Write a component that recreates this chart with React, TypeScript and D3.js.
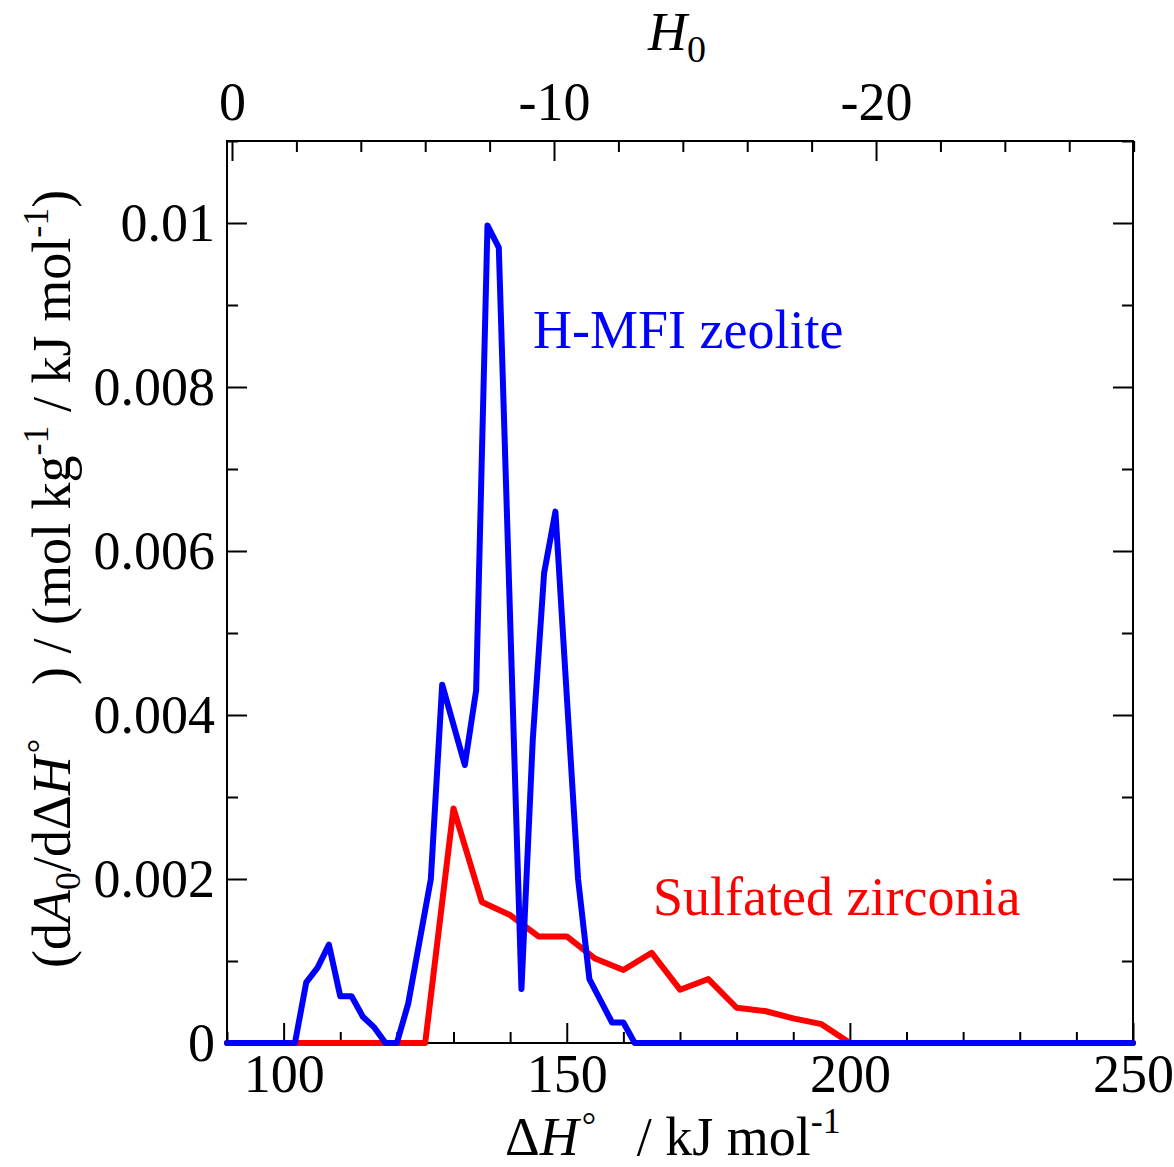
import React, { useEffect, useRef } from 'react';
import * as d3 from 'd3';

// H-MFI zeolite (blue)
const mfiDH = [90, 102, 104, 106, 108, 110, 112, 114, 116, 118, 120, 122, 126, 128, 132, 134, 136, 138, 142, 144, 146, 148, 152, 154, 158, 160, 162, 250];
const mfiVal = [0, 0, 0.00074, 0.00092, 0.0012, 0.00057, 0.00057, 0.00032, 0.00019, 0, 0, 0.00048, 0.002, 0.00437, 0.00339, 0.0043, 0.00997, 0.0097, 0.00066, 0.0037, 0.00573, 0.00648, 0.002, 0.00078, 0.00025, 0.00025, 0, 0];

// Sulfated zirconia (red)
const szDH = [90, 125, 130, 135, 140, 145, 150, 155, 160, 165, 170, 175, 180, 185, 190, 195, 200, 250];
const szVal = [0, 0, 0.00286, 0.00172, 0.00156, 0.0013, 0.0013, 0.00103, 0.00089, 0.0011, 0.00065, 0.00078, 0.00043, 0.00039, 0.0003, 0.00023, 0, 0];

const xMajor = [100, 150, 200, 250];
const yMajor = [0, 0.002, 0.004, 0.006, 0.008, 0.01];
const yLabels = ['0', '0.002', '0.004', '0.006', '0.008', '0.01'];
const h0Major = [0, -10, -20];

const W = 1174;
const H = 1167;
const left = 227, right = 1133, top = 141, bottom = 1043;
const FONT = '"Liberation Serif", "Times New Roman", serif';
const FS = 54;

export default function App() {
  const ref = useRef<SVGGElement>(null);

  const x = d3.scaleLinear().domain([90, 250]).range([left, right]);
  const y = d3.scaleLinear().domain([0, 0.011]).range([bottom, top]);
  // H0 acidity scale on top, linear in ΔH°
  const h0 = d3.scaleLinear().domain([0.155, -27.98]).range([left, right]);

  useEffect(() => {
    const g = d3.select(ref.current);
    g.selectAll('*').remove();

    const major = 20, minor = 11;
    const xMinor = d3.range(90, 251, 10).filter((v) => !xMajor.includes(v));
    const yMinor = d3.range(0, 12).map((i) => i * 0.001).filter((_, i) => i % 2 === 1);
    const hMinor = d3.range(0, -28.1, -2).filter((v) => v % 10 !== 0);

    const axis = (gen: any, tr: string) => {
      const a = g.append('g').attr('transform', tr).call(gen);
      a.select('.domain').remove();
      a.selectAll('line').attr('stroke', '#000').attr('stroke-width', 2);
      a.selectAll('text').attr('font-size', FS).attr('font-family', FONT).attr('fill', '#000');
      return a;
    };

    // bottom
    axis(d3.axisBottom(x).tickValues(xMajor).tickSize(-major).tickPadding(11).tickFormat((d) => String(d)), `translate(0,${bottom})`);
    axis(d3.axisBottom(x).tickValues(xMinor).tickSize(-minor).tickFormat(() => ''), `translate(0,${bottom})`);

    // top H0
    axis(d3.axisTop(h0).tickValues(h0Major).tickSize(-major).tickPadding(21).tickFormat((d) => String(d)), `translate(0,${top})`);
    axis(d3.axisTop(h0).tickValues(hMinor).tickSize(-minor).tickFormat(() => ''), `translate(0,${top})`);

    // left
    axis(d3.axisLeft(y).tickValues(yMajor).tickSize(-major).tickPadding(12).tickFormat((_, i) => yLabels[i]), `translate(${left},0)`);
    axis(d3.axisLeft(y).tickValues(yMinor).tickSize(-minor).tickFormat(() => ''), `translate(${left},0)`);

    // right
    axis(d3.axisRight(y).tickValues(yMajor).tickSize(-major).tickFormat(() => ''), `translate(${right},0)`);
    axis(d3.axisRight(y).tickValues(yMinor).tickSize(-minor).tickFormat(() => ''), `translate(${right},0)`);

    g.append('rect')
      .attr('x', left).attr('y', top)
      .attr('width', right - left).attr('height', bottom - top)
      .attr('fill', 'none').attr('stroke', '#000').attr('stroke-width', 2);

    const line = d3.line<[number, number]>().x((d) => x(d[0])).y((d) => y(d[1]));
    const series = [
      { xs: szDH, ys: szVal, color: '#ff0000' },
      { xs: mfiDH, ys: mfiVal, color: '#0000ff' },
    ];
    series.forEach((s) => {
      g.append('path')
        .attr('d', line(s.xs.map((v, i) => [v, s.ys[i]] as [number, number])))
        .attr('fill', 'none')
        .attr('stroke', s.color)
        .attr('stroke-width', 6)
        .attr('stroke-linejoin', 'round')
        .attr('stroke-linecap', 'round');
    });
  }, []);

  return (
    <svg width={W} height={H} style={{ position: 'absolute', left: 0, top: 0, background: '#fff' }} fontFamily={FONT}>
      <g ref={ref} />
      <text x={533} y={348} fontSize={FS} fill="#0000ff">H-MFI zeolite</text>
      <text x={653} y={915} fontSize={FS} fill="#ff0000">Sulfated zirconia</text>
      <text x={648} y={50} fontSize={FS}>
        <tspan fontStyle="italic">H</tspan>
        <tspan fontSize={38} dy={12}>0</tspan>
      </text>
      <text x={505} y={1155} fontSize={FS}>
        Δ<tspan fontStyle="italic">H</tspan>
        <tspan fontSize={36} dx={3} dy={-18}>°</tspan>
        <tspan dy={18}>{'\u00a0\u00a0\u00a0/ kJ mol'}</tspan>
        <tspan fontSize={36} dy={-22}>-1</tspan>
      </text>
      <text transform="translate(70,968) rotate(-90)" fontSize={FS}>
        (d<tspan fontStyle="italic">A</tspan>
        <tspan fontSize={36} dy={10}>0</tspan>
        <tspan dy={-10}>/dΔ</tspan>
        <tspan fontStyle="italic">H</tspan>
        <tspan fontSize={36} dx={3} dy={-18}>°</tspan>
        <tspan dy={18}>{'\u00a0\u00a0\u00a0\u00a0) / (mol kg'}</tspan>
        <tspan fontSize={36} dy={-22}>-1</tspan>
        <tspan dy={22}>{' / kJ mol'}</tspan>
        <tspan fontSize={36} dy={-22}>-1</tspan>
        <tspan dy={22}>)</tspan>
      </text>
    </svg>
  );
}
